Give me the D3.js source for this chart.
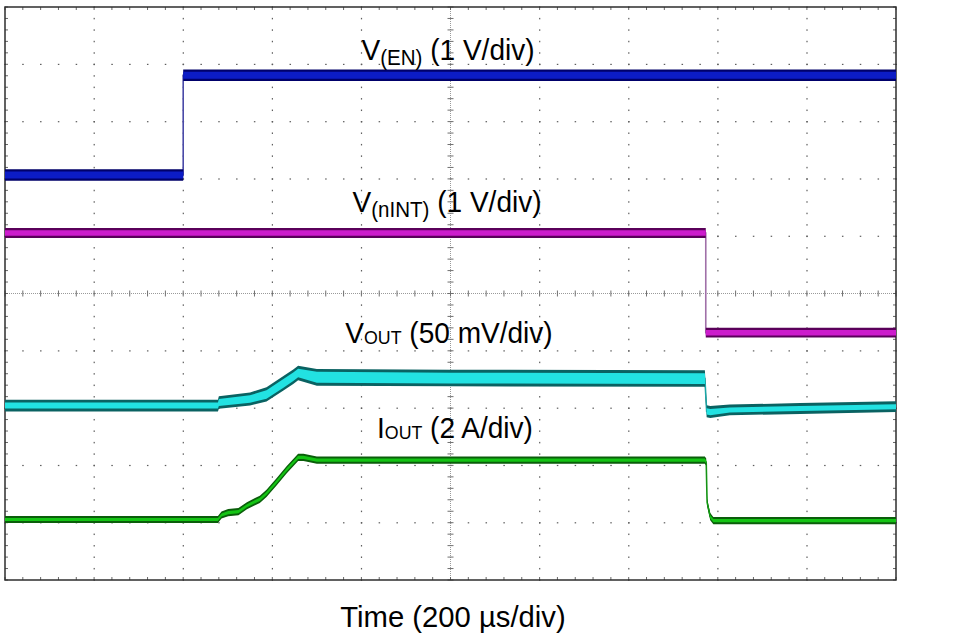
<!DOCTYPE html>
<html>
<head>
<meta charset="utf-8">
<script src="https://cdn.jsdelivr.net/npm/d3@7"></script>
<style>
  html, body { margin: 0; padding: 0; background: #fff; }
  svg { display: block; }
  text { font-family: "Liberation Sans", Arial, sans-serif; fill: #000; }
</style>
</head>
<body>
<svg id="chart" width="975" height="638"></svg>
<script>
// ---------- DATA (read from the scope capture) ----------
// Time axis: 200 µs/div, 10 divisions
const timeMajorTicks = [0, 200, 400, 600, 800, 1000, 1200, 1400, 1600, 1800, 2000];

// V(EN), volts (envelope low / high)
const enTime = [0, 400, 400, 2000];
const enLo   = [-0.09, -0.09, 1.65, 1.65];
const enHi   = [ 0.09,  0.09, 1.83, 1.83];

// V(nINT), volts
const nintTime = [0, 1573, 1573, 2000];
const nintLo   = [1.665, 1.665, -0.075, -0.075];
const nintHi   = [1.815, 1.815,  0.075,  0.075];

// VOUT, mV (AC deviation)
const voutTime = [0, 478, 480, 550, 587, 625, 647, 658, 700, 1000, 1571, 1575, 1583, 1627, 1785, 2000];
const voutLo   = [-4.6, -4.6, -2.4, 0.5, 4.0, 13.6, 19.3, 22.6, 17.8, 17.3, 16.8, -9.8, -10.4, -8.0, -6.8, -5.2];
const voutHi   = [ 4.6,  4.6,  7.6, 10.9, 15.4, 25.2, 30.9, 34.2, 31.4, 30.7, 30.2, -0.3, -1.0, 0.3, 1.6, 3.2];

// IOUT, amps
const ioutTime = [0, 478, 486, 501, 524, 543, 572, 587, 610, 632, 658, 670, 700, 1571, 1574, 1576, 1583, 1590, 2000];
const ioutMid  = [0, 0, 0.157, 0.237, 0.272, 0.48, 0.705, 0.914, 1.32, 1.73, 2.17, 2.17, 2.07, 2.07, 2.0, 0.6, 0.1, -0.04, -0.04];
const ioutNoise = 0.105;

// Labels
const labels = [
  { main: "V", sub: "(EN)",   rest: " (1 V/div)" },
  { main: "V", sub: "(nINT)", rest: " (1 V/div)" },
  { main: "V", sub: "OUT",    rest: " (50 mV/div)" },
  { main: "I", sub: "OUT",    rest: " (2 A/div)" }
];
const xAxisTitle = "Time (200 µs/div)";

// ---------- LAYOUT / STYLE ----------
const L = 5, R = 896, T = 7, B = 580;
const svg = d3.select("#chart");
svg.append("rect").attr("width", 975).attr("height", 638).attr("fill", "#fff");

const x = d3.scaleLinear().domain([0, 2000]).range([L, R]);
const ydiv = d3.scaleLinear().domain([-5, 5]).range([B, T]);

// channel settings: position (divisions of zero level) and scale per div
const channels = [
  { time: enTime,   lo: enLo,   hi: enHi,   offset: 2.068,  perDiv: 1,  dark: "#00006a", bright: "#0c1cc6", edge: "#4a4aa8", inset: 1.6, label: labels[0], lx: 448, ly: 60,  subDy: 5 },
  { time: nintTime, lo: nintLo, hi: nintHi, offset: -0.684, perDiv: 1,  dark: "#5a005a", bright: "#cc1ccc", edge: "#a070a8", inset: 1.5, label: labels[1], lx: 447, ly: 212, subDy: 5 },
  { time: voutTime, lo: voutLo, hi: voutHi, offset: -1.955, perDiv: 50, dark: "#0a6262", bright: "#22e2e2", edge: "#2aa0a0", inset: 2.3, label: labels[2], lx: 449, ly: 343, subDy: 1 },
  { time: ioutTime, lo: ioutMid.map(v => v - ioutNoise), hi: ioutMid.map(v => v + ioutNoise), offset: -3.944, perDiv: 2, dark: "#0a5e0a", bright: "#14c414", edge: "#1a9a1a", inset: 1.4, label: labels[3], lx: 455, ly: 438, subDy: 1 }
];

// ---------- GRID ----------
const g = svg.append("g");
const xMajor = timeMajorTicks;
const xMinor = d3.range(0, 2000.01, 40);
const yMajor = d3.range(-5, 5.01, 1);
const yMinor = d3.range(-5, 5.001, 0.2).map(v => +v.toFixed(2));
const dotCol = "#5e5e5e";

xMajor.filter(t => t !== 0 && t !== 2000 && t !== 1000).forEach(t => {
  yMinor.forEach(v => {
    g.append("rect").attr("x", x(t) - 0.5).attr("y", ydiv(v) - 0.6).attr("width", 1.2).attr("height", 1.5).attr("fill", dotCol);
  });
});
yMajor.filter(v => v !== -5 && v !== 5 && v !== 0).forEach(v => {
  xMinor.forEach(t => {
    g.append("rect").attr("x", x(t) - 0.6).attr("y", ydiv(v) - 0.5).attr("width", 1.5).attr("height", 1.2).attr("fill", dotCol);
  });
});
g.append("line").attr("x1", L).attr("x2", R).attr("y1", ydiv(0)).attr("y2", ydiv(0))
  .attr("stroke", "#9a9a9a").attr("stroke-width", 1).attr("stroke-dasharray", "1,1");
g.append("line").attr("x1", x(1000)).attr("x2", x(1000)).attr("y1", T).attr("y2", B)
  .attr("stroke", "#9a9a9a").attr("stroke-width", 1).attr("stroke-dasharray", "1,1");
xMinor.forEach(t => {
  g.append("line").attr("x1", x(t)).attr("x2", x(t)).attr("y1", ydiv(0) - 3).attr("y2", ydiv(0) + 3)
    .attr("stroke", "#707070").attr("stroke-width", 1);
});
yMinor.forEach(v => {
  g.append("line").attr("x1", x(1000) - 3).attr("x2", x(1000) + 3).attr("y1", ydiv(v)).attr("y2", ydiv(v))
    .attr("stroke", "#707070").attr("stroke-width", 1);
});
xMinor.forEach(t => {
  g.append("line").attr("x1", x(t)).attr("x2", x(t)).attr("y1", T).attr("y2", T + 3).attr("stroke", "#666").attr("stroke-width", 1);
  g.append("line").attr("x1", x(t)).attr("x2", x(t)).attr("y1", B).attr("y2", B - 3).attr("stroke", "#666").attr("stroke-width", 1);
});
yMinor.forEach(v => {
  g.append("line").attr("x1", L).attr("x2", L + 3).attr("y1", ydiv(v)).attr("y2", ydiv(v)).attr("stroke", "#666").attr("stroke-width", 1);
  g.append("line").attr("x1", R).attr("x2", R - 3).attr("y1", ydiv(v)).attr("y2", ydiv(v)).attr("stroke", "#666").attr("stroke-width", 1);
});
g.append("rect").attr("x", L).attr("y", T).attr("width", R - L).attr("height", B - T)
  .attr("fill", "none").attr("stroke", "#2e2e2e").attr("stroke-width", 1.5);

// ---------- TRACES ----------
const tg = svg.append("g");
channels.forEach(ch => {
  const yc = v => ydiv(ch.offset + v / ch.perDiv);
  const pts = ch.time.map((t, i) => ({ t, lo: ch.lo[i], hi: ch.hi[i] }));
  const outer = d3.area().x(d => x(d.t)).y0(d => yc(d.lo) + 0.6).y1(d => yc(d.hi) - 0.6);
  const inset = ch.inset;
  const inner = d3.area().x(d => x(d.t))
    .y0(d => { const a = yc(d.lo), b = yc(d.hi); return Math.max(a - inset, (a + b) / 2); })
    .y1(d => { const a = yc(d.lo), b = yc(d.hi); return Math.min(b + inset, (a + b) / 2); });
  const mid = d3.line().x(d => x(d.t)).y(d => yc((d.lo + d.hi) / 2));
  tg.append("path").attr("d", mid(pts)).attr("fill", "none").attr("stroke", ch.edge).attr("stroke-width", 1.6);
  tg.append("path").attr("d", outer(pts)).attr("fill", ch.dark);
  tg.append("path").attr("d", inner(pts)).attr("fill", ch.bright);
});

// ---------- LABELS ----------
channels.forEach(ch => {
  const t = svg.append("text").attr("transform", `translate(${ch.lx},${ch.ly}) scale(0.935,1)`)
    .attr("text-anchor", "middle").attr("font-size", 30);
  t.append("tspan").text(ch.label.main);
  t.append("tspan").attr("font-size", ch.label.sub === "OUT" ? 19 : 22).attr("dy", ch.subDy).text(ch.label.sub);
  t.append("tspan").attr("dy", -ch.subDy).text(ch.label.rest);
});
svg.append("text").attr("transform", "translate(453,627) scale(0.975,1)")
  .attr("text-anchor", "middle").attr("font-size", 30).text(xAxisTitle);
</script>
</body>
</html>
